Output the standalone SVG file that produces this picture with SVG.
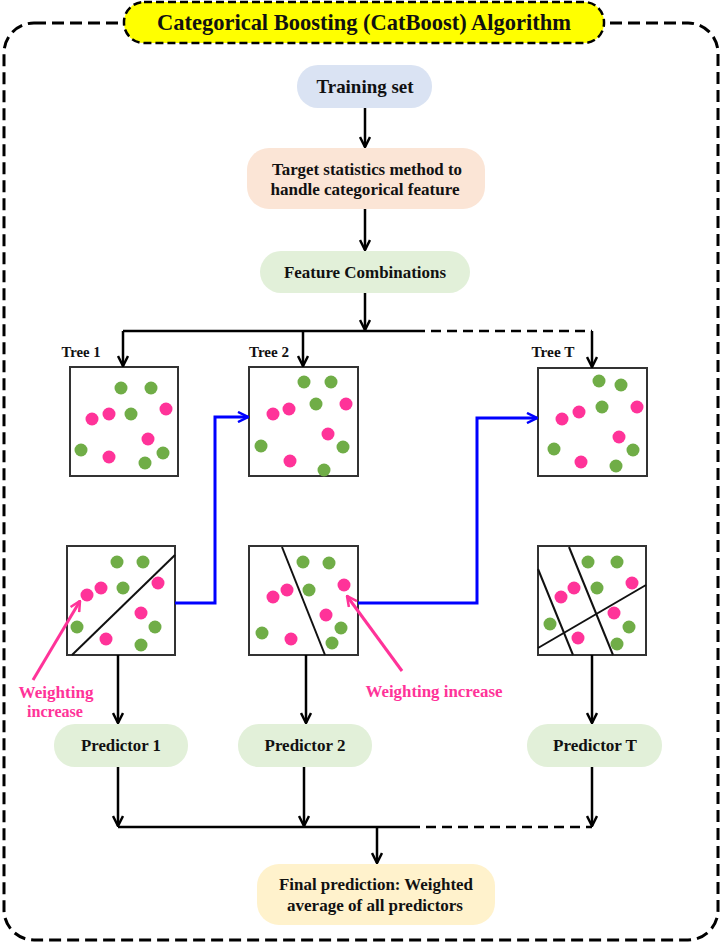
<svg xmlns="http://www.w3.org/2000/svg" width="722" height="946" viewBox="0 0 722 946">
<style>
.t{font-family:"Liberation Serif","Times New Roman",serif;font-weight:bold;fill:#111;text-anchor:middle}
.pk{font-family:"Liberation Serif","Times New Roman",serif;font-weight:bold;fill:#FF3399;text-anchor:middle}
.box{fill:#fff;stroke:#333;stroke-width:2}
.g{fill:#70AD47}
.p{fill:#FF3399}
.split{stroke:#111;stroke-width:2;fill:none}
.c{stroke:#000;stroke-width:2.5;fill:none}
.cd{stroke:#000;stroke-width:2.5;fill:none;stroke-dasharray:10 6}
.b{stroke:#0000FF;stroke-width:3;fill:none}
.pa{stroke:#FF3399;stroke-width:3;fill:none}
</style>
<defs>
<marker id="ak" viewBox="0 0 12 12" refX="11" refY="6" markerWidth="12" markerHeight="12" markerUnits="userSpaceOnUse" orient="auto"><path d="M1,1 L11,6 L1,11" fill="none" stroke="#000" stroke-width="2.5"/></marker>
<marker id="ab" viewBox="0 0 12 12" refX="11" refY="6" markerWidth="12" markerHeight="12" markerUnits="userSpaceOnUse" orient="auto"><path d="M1,1 L11,6 L1,11" fill="none" stroke="#0000FF" stroke-width="2.5"/></marker>
<marker id="ap" viewBox="0 0 12 12" refX="11" refY="6" markerWidth="12" markerHeight="12" markerUnits="userSpaceOnUse" orient="auto"><path d="M1,1 L11,6 L1,11" fill="none" stroke="#FF3399" stroke-width="2.5"/></marker>
</defs>
<rect x="0" y="0" width="722" height="946" fill="#fff"/>
<rect id="frame" x="4" y="23" width="714" height="917" rx="30" fill="none" stroke="#000" stroke-width="3" stroke-dasharray="12 6"/>
<g id="title">
<rect x="124" y="2" width="480" height="41" rx="20" fill="#FFFF00" stroke="#000" stroke-width="2.5" stroke-dasharray="8 4"/>
<text class="t" x="364" y="30" font-size="24" textLength="414" lengthAdjust="spacingAndGlyphs">Categorical Boosting (CatBoost) Algorithm</text>
</g>
<g id="training">
<rect x="297" y="65" width="135" height="43" rx="21" fill="#DAE3F3"/>
<text class="t" x="365" y="93" font-size="19" textLength="97" lengthAdjust="spacingAndGlyphs">Training set</text>
</g>
<g id="target">
<rect x="247" y="148" width="238" height="61" rx="22" fill="#FBE5D6"/>
<text class="t" x="367" y="175" font-size="17" textLength="190" lengthAdjust="spacingAndGlyphs">Target statistics method to</text>
<text class="t" x="365" y="195" font-size="17" textLength="189" lengthAdjust="spacingAndGlyphs">handle categorical feature</text>
</g>
<g id="feature">
<rect x="260" y="251" width="210" height="42" rx="21" fill="#E2F0D9"/>
<text class="t" x="365" y="278" font-size="17" textLength="162" lengthAdjust="spacingAndGlyphs">Feature Combinations</text>
</g>
<g id="tree1">
<text class="t" x="81" y="357" font-size="14" textLength="39" lengthAdjust="spacingAndGlyphs">Tree 1</text>
<rect class="box" x="70" y="367" width="108" height="109"/>
<circle class="g" cx="121" cy="388" r="6.5"/><circle class="g" cx="151" cy="388" r="6.5"/>
<circle class="p" cx="92" cy="419" r="6.5"/><circle class="p" cx="109" cy="414" r="6.5"/>
<circle class="g" cx="131" cy="414" r="6.5"/><circle class="p" cx="166" cy="409" r="6.5"/>
<circle class="p" cx="148" cy="439" r="6.5"/><circle class="g" cx="81" cy="450" r="6.5"/>
<circle class="p" cx="109" cy="457" r="6.5"/><circle class="g" cx="163" cy="453" r="6.5"/>
<circle class="g" cx="145" cy="463" r="6.5"/>
</g>
<g id="tree2">
<text class="t" x="269" y="357" font-size="14" textLength="40" lengthAdjust="spacingAndGlyphs">Tree 2</text>
<rect class="box" x="249" y="367" width="109" height="109"/>
<circle class="g" cx="304" cy="382" r="6.5"/><circle class="g" cx="331" cy="382" r="6.5"/>
<circle class="g" cx="316" cy="404" r="6.5"/><circle class="p" cx="346" cy="404" r="6.5"/>
<circle class="p" cx="289" cy="409" r="6.5"/><circle class="p" cx="273" cy="414" r="6.5"/>
<circle class="p" cx="328" cy="434" r="6.5"/><circle class="g" cx="261" cy="446" r="6.5"/>
<circle class="g" cx="343" cy="447" r="6.5"/><circle class="p" cx="290" cy="461" r="6.5"/>
<circle class="g" cx="324" cy="470" r="6.5"/>
</g>
<g id="treeT">
<text class="t" x="553" y="357" font-size="14" textLength="43" lengthAdjust="spacingAndGlyphs">Tree T</text>
<rect class="box" x="538" y="368" width="109" height="108"/>
<circle class="g" cx="599" cy="381" r="6.5"/><circle class="g" cx="621" cy="385" r="6.5"/>
<circle class="g" cx="602" cy="407" r="6.5"/><circle class="p" cx="637" cy="407" r="6.5"/>
<circle class="p" cx="579" cy="412" r="6.5"/><circle class="p" cx="562" cy="419" r="6.5"/>
<circle class="p" cx="619" cy="437" r="6.5"/><circle class="g" cx="554" cy="449" r="6.5"/>
<circle class="g" cx="633" cy="450" r="6.5"/><circle class="p" cx="581" cy="462" r="6.5"/>
<circle class="g" cx="616" cy="466" r="6.5"/>
</g>
<g id="split1">
<rect class="box" x="67" y="546" width="108" height="109"/>
<line class="split" x1="72" y1="655" x2="175" y2="555"/>
<circle class="g" cx="117" cy="562" r="6.5"/><circle class="g" cx="143" cy="562" r="6.5"/>
<circle class="p" cx="101" cy="588" r="6.5"/><circle class="g" cx="123" cy="588" r="6.5"/>
<circle class="p" cx="158" cy="583" r="6.5"/><circle class="p" cx="87" cy="595" r="6.5"/>
<circle class="g" cx="77" cy="627" r="6.5"/><circle class="p" cx="141" cy="613" r="6.5"/>
<circle class="g" cx="155" cy="627" r="6.5"/><circle class="p" cx="106" cy="639" r="6.5"/>
<circle class="g" cx="141" cy="645" r="6.5"/>
</g>
<g id="split2">
<rect class="box" x="249" y="546" width="109" height="109"/>
<line class="split" x1="282" y1="547" x2="325" y2="655"/>
<circle class="g" cx="303" cy="562" r="6.5"/><circle class="g" cx="329" cy="563" r="6.5"/>
<circle class="p" cx="287" cy="590" r="6.5"/><circle class="p" cx="273" cy="597" r="6.5"/>
<circle class="g" cx="309" cy="590" r="6.5"/><circle class="p" cx="344" cy="585" r="6.5"/>
<circle class="p" cx="326" cy="615" r="6.5"/><circle class="g" cx="341" cy="628" r="6.5"/>
<circle class="g" cx="262" cy="633" r="6.5"/><circle class="p" cx="291" cy="639" r="6.5"/>
<circle class="g" cx="332" cy="643" r="6.5"/>
</g>
<g id="splitT">
<rect class="box" x="538" y="546" width="108" height="109"/>
<line class="split" x1="569" y1="547" x2="613" y2="655"/>
<line class="split" x1="538" y1="569" x2="573" y2="655"/>
<line class="split" x1="538" y1="648" x2="646" y2="585"/>
<circle class="g" cx="588" cy="562" r="6.5"/><circle class="g" cx="617" cy="562" r="6.5"/>
<circle class="p" cx="574" cy="588" r="6.5"/><circle class="p" cx="561" cy="597" r="6.5"/>
<circle class="g" cx="597" cy="588" r="6.5"/><circle class="p" cx="632" cy="583" r="6.5"/>
<circle class="p" cx="614" cy="613" r="6.5"/><circle class="g" cx="550" cy="624" r="6.5"/>
<circle class="g" cx="629" cy="627" r="6.5"/><circle class="p" cx="578" cy="638" r="6.5"/>
<circle class="g" cx="617" cy="644" r="6.5"/>
</g>
<g id="weight1">
<text class="pk" x="56" y="698" font-size="16" textLength="75" lengthAdjust="spacingAndGlyphs">Weighting</text>
<text class="pk" x="55" y="717" font-size="16" textLength="56" lengthAdjust="spacingAndGlyphs">increase</text>
</g>
<g id="weight2">
<text class="pk" x="434" y="697" font-size="16" textLength="137" lengthAdjust="spacingAndGlyphs">Weighting increase</text>
</g>
<g id="pred1">
<rect x="54" y="724" width="134" height="43" rx="21" fill="#E2F0D9"/>
<text class="t" x="121" y="751" font-size="17" textLength="80" lengthAdjust="spacingAndGlyphs">Predictor 1</text>
</g>
<g id="pred2">
<rect x="238" y="724" width="134" height="43" rx="21" fill="#E2F0D9"/>
<text class="t" x="305" y="751" font-size="17" textLength="81" lengthAdjust="spacingAndGlyphs">Predictor 2</text>
</g>
<g id="predT">
<rect x="527" y="724" width="135" height="43" rx="21" fill="#E2F0D9"/>
<text class="t" x="595" y="751" font-size="17" textLength="84" lengthAdjust="spacingAndGlyphs">Predictor T</text>
</g>
<g id="final">
<rect x="257" y="864" width="238" height="61" rx="22" fill="#FFF2CC"/>
<text class="t" x="376" y="890" font-size="17" textLength="194" lengthAdjust="spacingAndGlyphs">Final prediction: Weighted</text>
<text class="t" x="375" y="911" font-size="17" textLength="176" lengthAdjust="spacingAndGlyphs">average of all predictors</text>
</g>
<g id="connectors">
<path class="c" d="M365,108 V147" marker-end="url(#ak)"/>
<path class="c" d="M365,209 V250" marker-end="url(#ak)"/>
<path class="c" d="M365,293 V330" marker-end="url(#ak)"/>
<path class="c" d="M123,331 H415"/>
<path class="cd" d="M415,331 H592"/>
<path class="c" d="M123,331 V366" marker-end="url(#ak)"/>
<path class="c" d="M303,331 V366" marker-end="url(#ak)"/>
<path class="c" d="M592,331 V367" marker-end="url(#ak)"/>
<path class="b" d="M175,603 H215 V417 H248" marker-end="url(#ab)"/>
<path class="b" d="M358,603 H477 V418 H537" marker-end="url(#ab)"/>
<path class="pa" d="M33,680 L80,601" marker-end="url(#ap)"/>
<path class="pa" d="M402,671 L347,596" marker-end="url(#ap)"/>
<path class="c" d="M118,655 V723" marker-end="url(#ak)"/>
<path class="c" d="M306,655 V723" marker-end="url(#ak)"/>
<path class="c" d="M592,655 V723" marker-end="url(#ak)"/>
<path class="c" d="M118,767 V826" marker-end="url(#ak)"/>
<path class="c" d="M304,767 V826" marker-end="url(#ak)"/>
<path class="c" d="M592,767 V826" marker-end="url(#ak)"/>
<path class="c" d="M118,827 H410"/>
<path class="cd" d="M410,827 H592"/>
<path class="c" d="M377,827 V863" marker-end="url(#ak)"/>
</g>
</svg>
